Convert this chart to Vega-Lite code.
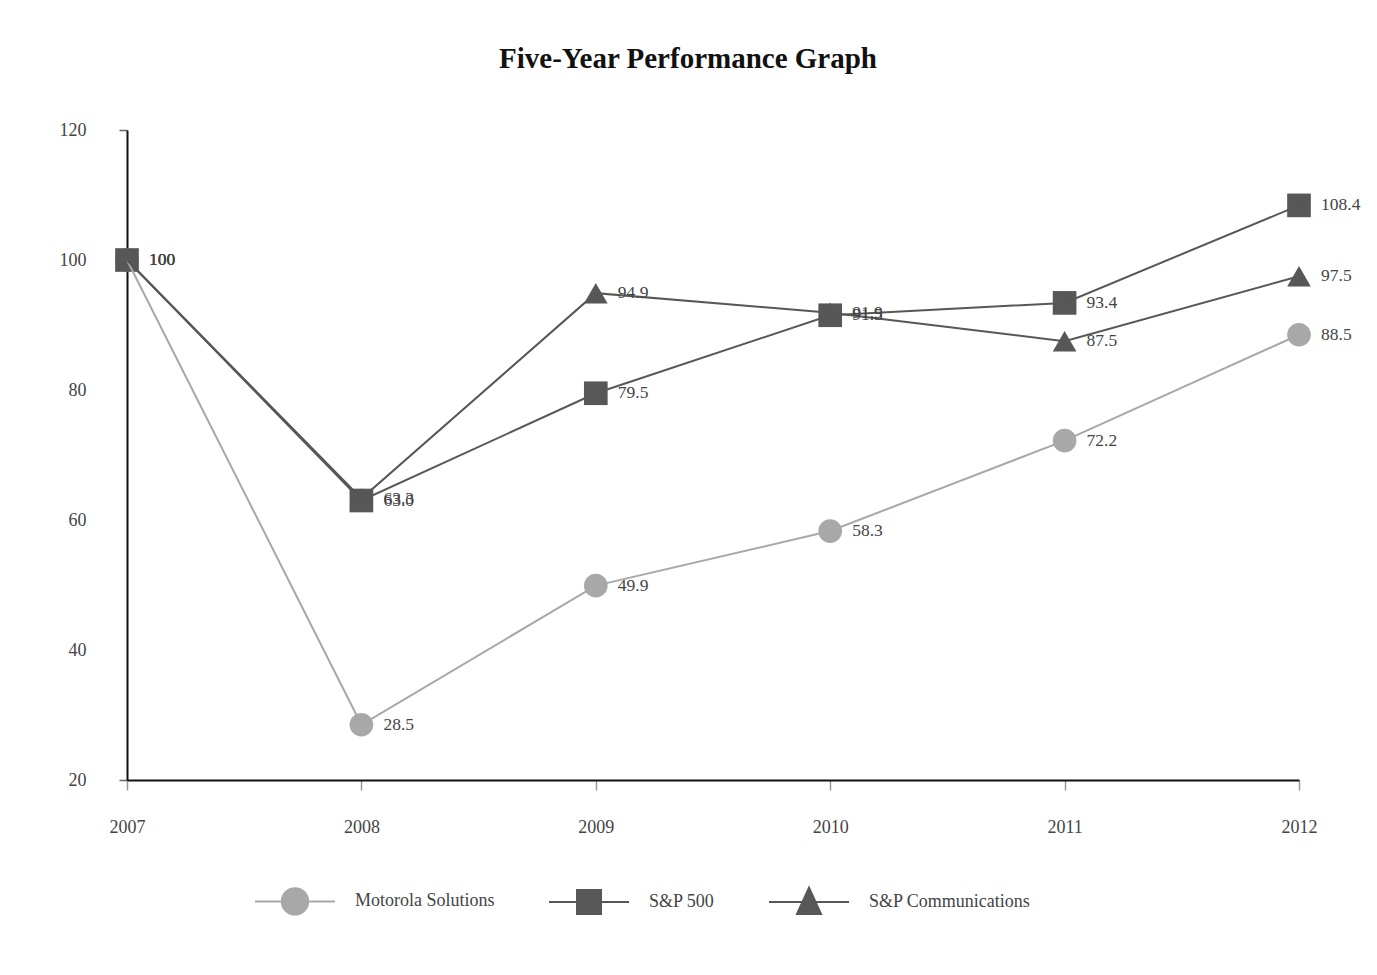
{
  "$schema": "https://vega.github.io/schema/vega-lite/v6.json",
  "width": 1172,
  "height": 650,
  "autosize": {"type": "none"},
  "padding": {"left": 127, "top": 130, "right": 78, "bottom": 195},
  "background": "white",
  "title": {
    "text": "Five-Year Performance Graph",
    "font": "Liberation Serif",
    "fontSize": 29,
    "fontWeight": "bold",
    "color": "#111",
    "anchor": "middle",
    "dx": -25,
    "offset": 47
  },
  "config": {
    "view": {"stroke": null},
    "axis": {"labelFont": "Liberation Serif", "labelFontSize": 18, "labelColor": "#444", "grid": false, "title": null}
  },
  "data": {
    "values": [
      {"series": "Motorola Solutions", "marker": "circle", "year": "2007", "value": 100, "label": "100"},
      {"series": "Motorola Solutions", "marker": "circle", "year": "2008", "value": 28.5, "label": "28.5"},
      {"series": "Motorola Solutions", "marker": "circle", "year": "2009", "value": 49.9, "label": "49.9"},
      {"series": "Motorola Solutions", "marker": "circle", "year": "2010", "value": 58.3, "label": "58.3"},
      {"series": "Motorola Solutions", "marker": "circle", "year": "2011", "value": 72.2, "label": "72.2"},
      {"series": "Motorola Solutions", "marker": "circle", "year": "2012", "value": 88.5, "label": "88.5"},
      {"series": "S&P Communications", "marker": "triangle", "year": "2007", "value": 100, "label": "100"},
      {"series": "S&P Communications", "marker": "triangle", "year": "2008", "value": 63.3, "label": "63.3"},
      {"series": "S&P Communications", "marker": "triangle", "year": "2009", "value": 94.9, "label": "94.9"},
      {"series": "S&P Communications", "marker": "triangle", "year": "2010", "value": 91.9, "label": "91.9"},
      {"series": "S&P Communications", "marker": "triangle", "year": "2011", "value": 87.5, "label": "87.5"},
      {"series": "S&P Communications", "marker": "triangle", "year": "2012", "value": 97.5, "label": "97.5"},
      {"series": "S&P 500", "marker": "square", "year": "2007", "value": 100, "label": "100"},
      {"series": "S&P 500", "marker": "square", "year": "2008", "value": 63.0, "label": "63.0"},
      {"series": "S&P 500", "marker": "square", "year": "2009", "value": 79.5, "label": "79.5"},
      {"series": "S&P 500", "marker": "square", "year": "2010", "value": 91.5, "label": "91.5"},
      {"series": "S&P 500", "marker": "square", "year": "2011", "value": 93.4, "label": "93.4"},
      {"series": "S&P 500", "marker": "square", "year": "2012", "value": 108.4, "label": "108.4"}
    ]
  },
  "encoding": {
    "x": {
      "field": "year",
      "type": "ordinal",
      "scale": {"type": "point", "padding": 0},
      "axis": {
        "labelAngle": 0,
        "domainColor": "#111",
        "domainWidth": 2,
        "tickColor": "#999",
        "tickWidth": 1.5,
        "tickSize": 10,
        "labelPadding": 28
      }
    },
    "y": {
      "field": "value",
      "type": "quantitative",
      "scale": {"domain": [20, 120], "nice": false, "zero": false},
      "axis": {
        "values": [20, 40, 60, 80, 100, 120],
        "domainColor": "#111",
        "domainWidth": 2,
        "tickSize": 8,
        "tickWidth": 1.5,
        "tickColor": {"condition": {"test": "datum.value == 20 || datum.value == 120", "value": "#666"}, "value": "transparent"},
        "labelPadding": 33
      }
    }
  },
  "layer": [
    {
      "mark": {"type": "point", "filled": true, "opacity": 1, "size": 560},
      "encoding": {
        "color": {
          "field": "series",
          "type": "nominal",
          "scale": {"domain": ["Motorola Solutions", "S&P 500", "S&P Communications"], "range": ["#a8a8a8", "#575757", "#575757"]},
          "legend": {
            "title": null,
            "orient": "none",
            "legendX": 127,
            "legendY": 730,
            "direction": "horizontal",
            "symbolSize": 6400,
            "symbolStrokeWidth": 2,
            "symbolOpacity": 1,
            "labelFont": "Liberation Serif",
            "labelFontSize": 18,
            "labelColor": "#444",
            "labelOffset": 19,
            "labelLimit": 400,
            "columnPadding": 50,
            "encode": {
              "symbols": {
                "update": {
                  "shape": {"signal": "datum.value === 'Motorola Solutions' ? 'M-1,0H-0.33M0.33,0H1M-0.33,0A0.33,0.33 0 1 1 0.33,0A0.33,0.33 0 1 1 -0.33,0Z' : datum.value === 'S&P 500' ? 'M-1,0H1M-0.3,-0.3H0.3V0.3H-0.3Z' : 'M-1,0H1M0,-0.36L0.3,0.3H-0.3Z'"},
                  "fill": {"signal": "datum.value === 'Motorola Solutions' ? '#a8a8a8' : '#575757'"},
                  "stroke": {"signal": "datum.value === 'Motorola Solutions' ? '#a8a8a8' : '#575757'"},
                  "strokeWidth": {"value": 2},
                  "opacity": {"value": 1}
                }
              }
            }
          }
        },
        "shape": {
          "field": "marker",
          "type": "nominal",
          "scale": {"domain": ["circle", "square", "triangle"], "range": ["circle", "square", "triangle-up"]},
          "legend": null
        }
      }
    },
    {
      "mark": {"type": "line", "strokeWidth": 2},
      "encoding": {
        "detail": {"field": "series"},
        "color": {"field": "series", "type": "nominal"}
      }
    },
    {
      "mark": {"type": "text", "align": "left", "baseline": "middle", "dx": 22, "font": "Liberation Serif", "fontSize": 17.5},
      "encoding": {
        "text": {"field": "label"},
        "color": {"value": "#444"}
      }
    }
  ]
}
